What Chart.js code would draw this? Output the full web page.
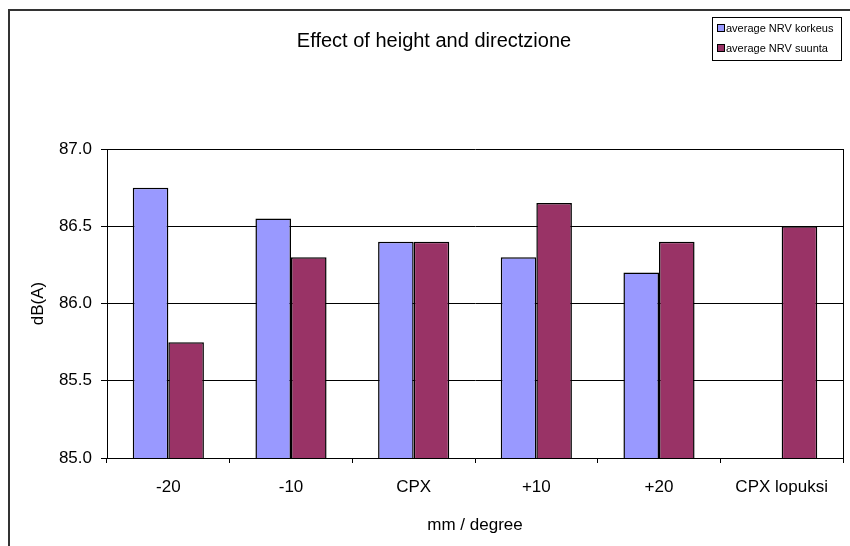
<!DOCTYPE html>
<html>
<head>
<meta charset="utf-8">
<script src="https://cdn.jsdelivr.net/npm/chart.js@4"></script>
<style>
  html, body { margin: 0; padding: 0; background: #fff; }
  #wrap { width: 850px; height: 546px; }
</style>
</head>
<body>
<div id="wrap"><canvas id="grafica" width="850" height="546"></canvas></div>
<script>
// Datos
const categorias = ["-20", "-10", "CPX", "+10", "+20", "CPX lopuksi"];
const nrvKorkeus = [86.75, 86.55, 86.4, 86.3, 86.2, null];
const nrvSuunta = [85.75, 86.3, 86.4, 86.65, 86.4, 86.5];
const ticksY = [85.0, 85.5, 86.0, 86.5, 87.0];

const tituloGrafica = "Effect of height and directzione";
const fuente = "'Liberation Sans', Arial, sans-serif";

// Marco exterior, título, borde derecho del área y leyenda estilo Excel
const decoracion = {
    id: "decoracion",
    afterDraw(chart) {
        const ctx = chart.ctx;
        const area = chart.chartArea;
        ctx.save();

        // marco exterior
        ctx.strokeStyle = "#333";
        ctx.lineWidth = 2;
        ctx.strokeRect(9, 10, 900, 600);

        // borde derecho del área de trazado
        ctx.strokeStyle = "#000";
        ctx.lineWidth = 1;
        ctx.beginPath();
        ctx.moveTo(Math.round(area.right) + 0.5, area.top);
        ctx.lineTo(Math.round(area.right) + 0.5, area.bottom);
        ctx.stroke();

        // título
        ctx.fillStyle = "#000";
        ctx.font = "20px " + fuente;
        ctx.textAlign = "center";
        ctx.textBaseline = "alphabetic";
        ctx.fillText(tituloGrafica, 434, 47);

        // leyenda
        ctx.strokeStyle = "#000";
        ctx.strokeRect(712.5, 17.5, 129, 43);
        ctx.font = "11px " + fuente;
        ctx.textAlign = "left";
        chart.data.datasets.forEach((ds, i) => {
            const y = 24 + i * 20;
            ctx.fillStyle = ds.backgroundColor;
            ctx.fillRect(717, y, 8, 8);
            ctx.strokeRect(717.5, y + 0.5, 7, 7);
            ctx.fillStyle = "#000";
            ctx.fillText(ds.label, 726, y + 8);
        });
        ctx.restore();
    }
};

const ctx = document.getElementById("grafica").getContext("2d");

new Chart(ctx, {
    type: "bar",
    data: {
        labels: categorias,
        datasets: [
            {
                label: "average NRV korkeus",
                data: nrvKorkeus,
                backgroundColor: "#9999FF",
                borderColor: "#000",
                borderWidth: 1.5
            },
            {
                label: "average NRV suunta",
                data: nrvSuunta,
                backgroundColor: "#993366",
                borderColor: "#000",
                borderWidth: 1.5
            }
        ]
    },
    options: {
        responsive: false,
        animation: false,
        events: [],
        datasets: {
            bar: { categoryPercentage: 0.58, barPercentage: 1.0 }
        },
        layout: { padding: { top: 149, right: 7, left: 0, bottom: 0 } },
        plugins: {
            legend: { display: false },
            title: { display: false },
            tooltip: { enabled: false }
        },
        scales: {
            x: {
                afterFit: (scale) => { scale.height = 88; },
                grid: {
                    offset: true,
                    drawOnChartArea: false,
                    color: "#000",
                    tickLength: 5
                },
                border: { color: "#000", width: 1 },
                ticks: {
                    color: "#000",
                    font: { family: fuente, size: 17 },
                    padding: 14,
                    maxRotation: 0
                },
                title: {
                    display: true,
                    text: "mm / degree",
                    color: "#000",
                    font: { family: fuente, size: 17 },
                    padding: { bottom: 10 }
                }
            },
            y: {
                min: 85,
                max: 87,
                afterFit: (scale) => { scale.width = 107; },
                afterBuildTicks: (scale) => {
                    scale.ticks = ticksY.map(v => ({ value: v }));
                },
                grid: { color: "#000", tickLength: 6 },
                border: { color: "#000", width: 1 },
                ticks: {
                    color: "#000",
                    font: { family: fuente, size: 17 },
                    padding: 9,
                    callback: (v) => Number(v).toFixed(1)
                },
                title: {
                    display: true,
                    text: "dB(A)",
                    color: "#000",
                    font: { family: fuente, size: 17 },
                    padding: { top: 28 }
                }
            }
        }
    },
    plugins: [decoracion]
});
</script>
</body>
</html>
